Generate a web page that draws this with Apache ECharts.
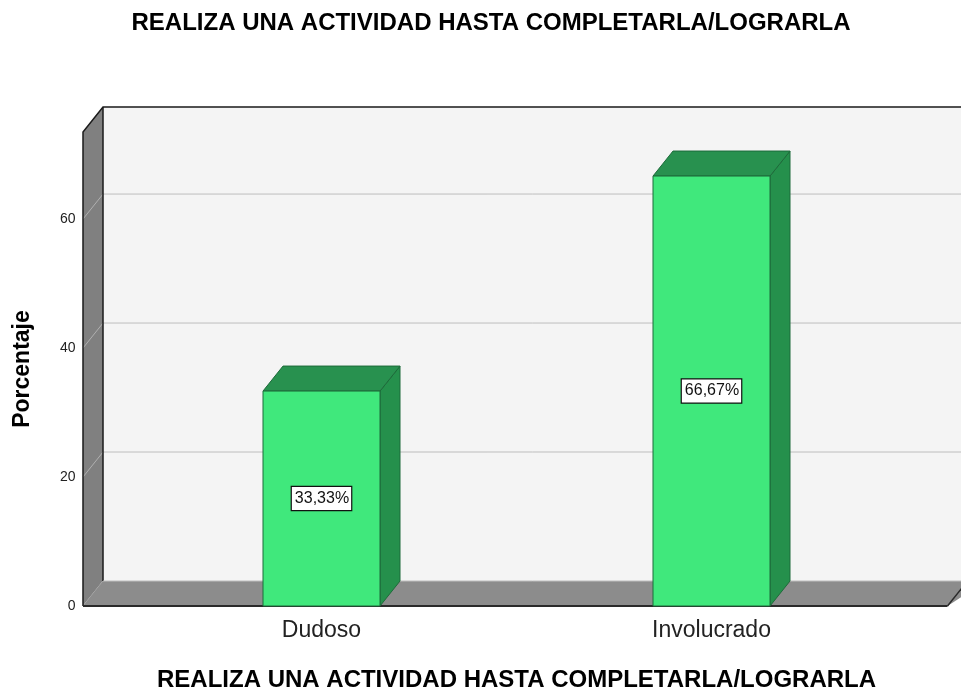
<!DOCTYPE html>
<html>
<head>
<meta charset="utf-8">
<title>Realiza una actividad</title>
<script src="https://cdn.jsdelivr.net/npm/echarts@6/dist/echarts.min.js"></script>
<style>
html,body{margin:0;padding:0;background:#fff;}
#main{width:961px;height:689px;}
</style>
</head>
<body>
<div id="main"></div>
<script>
// datos
var categories = ['Dudoso', 'Involucrado'];
var percentages = [33.33, 66.67];
var yTicks = [0, 20, 40, 60];
var chartTitle = 'REALIZA UNA ACTIVIDAD HASTA COMPLETARLA/LOGRARLA';

var DX = 20, DY = -25; // profundidad 3D

var myChart = echarts.init(document.getElementById('main'));

function renderWalls(params, api) {
    var cs = params.coordSys;
    var fl = cs.x - 43.5;              // borde frontal izquierdo
    var fr = cs.x + cs.width + 41;     // borde frontal derecho del suelo
    var br = cs.x + cs.width + 80;     // pared de fondo (cortada)
    var top = cs.y, bot = cs.y + cs.height;
    var children = [];
    // pared de fondo
    children.push({type: 'rect', shape: {x: fl + DX, y: top + DY, width: br - fl - DX, height: cs.height},
        style: {fill: '#f4f4f4'}});
    // lineas de rejilla
    yTicks.forEach(function (t) {
        var y = api.coord([0, t])[1];
        if (t > 0) {
            children.push({type: 'line', shape: {x1: fl + DX, y1: y + DY, x2: br, y2: y + DY},
                style: {stroke: '#bdbdbd', lineWidth: 1}});
        }
    });
    // pared izquierda
    children.push({type: 'polygon', shape: {points: [[fl, top], [fl + DX, top + DY], [fl + DX, bot + DY], [fl, bot]]},
        style: {fill: '#808080'}});
    yTicks.forEach(function (t) {
        var y = api.coord([0, t])[1];
        children.push({type: 'line', shape: {x1: fl, y1: y, x2: fl + DX, y2: y + DY},
            style: {stroke: '#b0b0b0', lineWidth: 1}});
    });
    // suelo
    children.push({type: 'polygon', shape: {points: [[fl, bot], [fl + DX, bot + DY], [br, bot + DY], [fr, bot]]},
        style: {fill: '#8c8c8c'}});
    // bordes
    children.push({type: 'polyline', shape: {points: [[fl, bot], [fl, top], [fl + DX, top + DY], [br, top + DY]]},
        style: {stroke: '#1a1a1a', lineWidth: 1.5, fill: null}});
    children.push({type: 'line', shape: {x1: fl + DX, y1: top + DY, x2: fl + DX, y2: bot + DY},
        style: {stroke: '#1a1a1a', lineWidth: 1.5}});
    children.push({type: 'line', shape: {x1: fl, y1: bot, x2: fr, y2: bot},
        style: {stroke: '#2a2a2a', lineWidth: 2}});
    children.push({type: 'line', shape: {x1: fr, y1: bot, x2: fr + DX, y2: bot + DY},
        style: {stroke: '#2a2a2a', lineWidth: 1.5}});
    children.push({type: 'line', shape: {x1: fl + DX, y1: bot + DY, x2: br, y2: bot + DY},
        style: {stroke: '#bdbdbd', lineWidth: 1}});
    return {type: 'group', children: children};
}

function renderBar(params, api) {
    var idx = api.value(0);
    var val = api.value(1);
    var p = api.coord([idx, val]);
    var b = api.coord([idx, 0]);
    var w = api.size([1, 0])[0] * 0.3;
    var x0 = p[0] - w / 2, x1 = x0 + w;
    var edge = {stroke: '#1d6b3a', lineWidth: 1};
    return {
        type: 'group',
        children: [
            {type: 'polygon', shape: {points: [[x1, p[1]], [x1 + DX, p[1] + DY], [x1 + DX, b[1] + DY], [x1, b[1]]]},
                style: Object.assign({fill: '#25904c'}, edge)},
            {type: 'polygon', shape: {points: [[x0, p[1]], [x0 + DX, p[1] + DY], [x1 + DX, p[1] + DY], [x1, p[1]]]},
                style: Object.assign({fill: '#28914f'}, edge)},
            {type: 'rect', shape: {x: x0, y: p[1], width: w, height: b[1] - p[1]},
                style: Object.assign({fill: '#40e87c'}, edge)},
            {type: 'text', x: p[0], y: (p[1] + b[1]) / 2,
                style: {text: val.toFixed(2).replace('.', ',') + '%', fill: '#111',
                    font: '16px "Liberation Sans", Arial, sans-serif', align: 'center', verticalAlign: 'middle',
                    backgroundColor: '#ffffff', borderColor: '#111', borderWidth: 1.2, padding: [4, 2, 3, 3]}}
        ]
    };
}

var option = {
    animation: false,
    textStyle: {fontFamily: '"Liberation Sans", Arial, sans-serif'},
    graphic: [{
        type: 'text', x: 491, y: 23,
        style: {text: chartTitle, fill: '#000', font: 'bold 24px "Liberation Sans", Arial, sans-serif',
            align: 'center', verticalAlign: 'middle'}
    }],
    grid: {left: 126.5, right: 54.5, top: 132, bottom: 83, outerBoundsMode: 'none', containLabel: false},
    xAxis: {
        type: 'category',
        data: categories,
        name: chartTitle,
        nameLocation: 'middle',
        nameGap: 62,
        nameTextStyle: {fontSize: 24, fontWeight: 'bold', color: '#000'},
        axisLine: {show: false},
        axisTick: {show: false},
        axisLabel: {fontSize: 23, color: '#222', margin: 13}
    },
    yAxis: {
        type: 'value',
        min: 0,
        max: 73.5,
        interval: 20,
        name: 'Porcentaje',
        nameLocation: 'middle',
        nameGap: 92,
        nameTextStyle: {fontSize: 23, fontWeight: 'bold', color: '#000'},
        axisLine: {show: false},
        axisTick: {show: false},
        splitLine: {show: false},
        axisLabel: {
            fontSize: 14, color: '#222', margin: 51,
            formatter: function (v) { return v % 20 === 0 ? String(v) : ''; }
        }
    },
    series: [
        {type: 'custom', renderItem: renderWalls, data: [[0]], silent: true, z: 1},
        {type: 'custom', renderItem: renderBar, z: 2,
            data: percentages.map(function (v, i) { return [i, v]; })}
    ]
};

myChart.setOption(option);
</script>
</body>
</html>
